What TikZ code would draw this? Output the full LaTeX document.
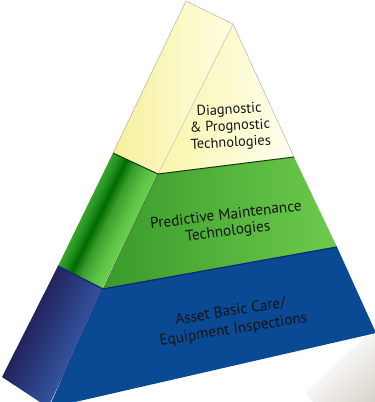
\documentclass[tikz,border=0pt]{standalone}
\usepackage{fontspec}
\setmainfont{PT Sans}
\definecolor{yL}{HTML}{F5F09C}
\definecolor{yR}{HTML}{FFFFE4}
\definecolor{yfL}{HTML}{F8F5AA}
\definecolor{yfR}{HTML}{FFFFF0}
\definecolor{gA}{HTML}{3CA22E}
\definecolor{gB}{HTML}{229020}
\definecolor{gD}{HTML}{006A00}
\definecolor{gM}{HTML}{3A9E2E}
\definecolor{gN}{HTML}{5EC445}
\definecolor{gR}{HTML}{6CCF4E}
\definecolor{gfL}{HTML}{3A9A2B}
\definecolor{gfR}{HTML}{6CCB4C}
\definecolor{bL}{HTML}{22225A}
\definecolor{bR}{HTML}{3354A0}
\definecolor{bF}{HTML}{0A4A95}
\definecolor{gline}{HTML}{1B3A12}
\definecolor{bline}{HTML}{0B2C73}
\definecolor{stone}{HTML}{D4CFC6}
\pgfdeclarehorizontalshading{greenside}{100bp}{color(0bp)=(gA); color(25bp)=(gA); color(32bp)=(gB); color(40bp)=(gD); color(50bp)=(gM); color(65bp)=(gN); color(75bp)=(gR); color(100bp)=(gR)}
\begin{document}
\begin{tikzpicture}[x=1pt,y=-1pt,
  lbl/.style={align=center, text=black!92, inner sep=0pt}]
\useasboundingbox (0,0) rectangle (375,402);
% corner points
\coordinate (A) at (186,1);
\coordinate (B) at (233,24);
\coordinate (G1) at (113,153);
\coordinate (R1) at (158,174);
\coordinate (F1) at (294,157);
\coordinate (G2) at (58,266);
\coordinate (R2) at (103,289);
\coordinate (F2) at (337,247);
\coordinate (L3) at (2,377);
\coordinate (R3) at (49,408);
\coordinate (F3) at (376,333);
% stone in the lower right corner
\begin{scope}
  \clip (296,402) -- (376,326) -- (376,402) -- cycle;
  \shade[top color=white, bottom color=stone, transform canvas={rotate around={43:(345,370)}}] (300,345) rectangle (400,420);
\end{scope}
% yellow tier
\shade[left color=yL, right color=yR] (A) -- (B) -- (R1) -- (G1) -- cycle;
\shade[left color=yfL, right color=yfR] (B) -- (F1) -- (R1) -- cycle;
% green tier
\begin{scope}
  \clip (G1) -- (R1) -- (R2) -- (G2) -- cycle;
  \shade[shading=greenside, transform canvas={rotate around={-26:(108,220)}}] (83,100) rectangle (133,340);
\end{scope}
\shade[left color=gfL, right color=gfR] (R1) -- (F1) -- (F2) -- (R2) -- cycle;
% blue tier
\begin{scope}
  \clip (G2) -- (R2) -- (R3) -- (L3) -- cycle;
  \shade[left color=bL, right color=bR, transform canvas={rotate around={-26:(52,335)}}] (25,220) rectangle (80,460);
\end{scope}
\fill[bF] (R2) -- (F2) -- (F3) -- (R3) -- cycle;
% edges
\draw[line width=0.4pt, black!35] (G1) -- (A) -- (B) -- (F1);
\draw[line width=0.4pt, black!30] (B) -- (R1);
\draw[line width=0.5pt, gline!80] (R1) -- (R2);
\draw[line width=0.5pt, bline] (R2) -- (R3);
\draw[line width=1pt, gline] (G1) -- (R1) -- (F1);
\draw[line width=1.3pt, bline] (G2) -- (R2) -- (F2);
% labels
\node[lbl, rotate=3, font=\fontsize{14.4}{16.5}\selectfont] (t1) at (230,127) {Diagnostic\\\& Prognostic\\Technologies};
\node[lbl, rotate=7, font=\fontsize{15.3}{16.5}\selectfont] (t2) at (227,224) {Predictive Maintenance\\Technologies};
\node[lbl, rotate=9, font=\fontsize{15.3}{18.5}\selectfont] (t3) at (232,321) {Asset Basic Care/\\Equipment Inspections};
\end{tikzpicture}
\end{document}
